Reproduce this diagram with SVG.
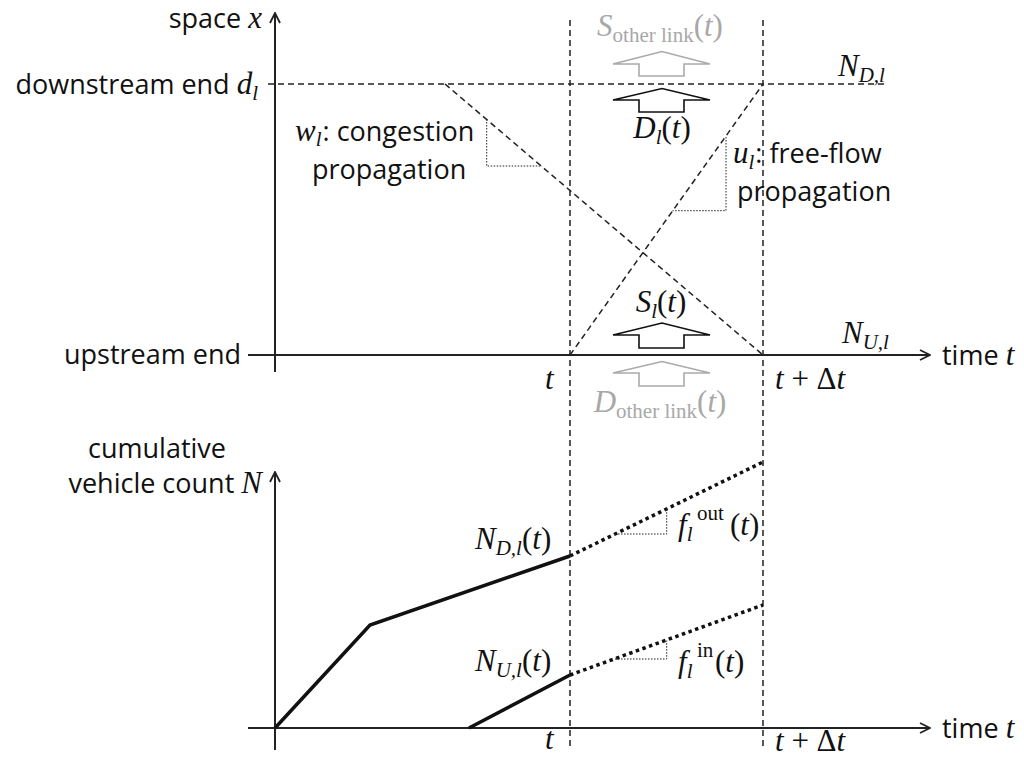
<svg xmlns="http://www.w3.org/2000/svg" width="1024" height="763" viewBox="0 0 1024 763">
<style>
.lbl{font-family:"Open Sans","Noto Sans",sans-serif;font-size:27px;fill:#111}
.m{font-family:"Liberation Serif","DejaVu Serif",serif;font-style:italic;font-size:31px;fill:#111}
.up{font-style:normal}
.sub{font-size:21px}
.gray{fill:#a8a8a8}
.axis{stroke:#222;stroke-width:2;fill:none}
.dash{stroke:#222;stroke-width:1.5;stroke-dasharray:6,4;fill:none}
.dot{stroke:#222;stroke-width:1;stroke-dasharray:1.5,1.5;fill:none}
.thick{stroke:#111;stroke-width:3.5;fill:none}
.thickdot{stroke:#111;stroke-width:3.5;stroke-dasharray:3.5,3.5;fill:none}
.arr{stroke:#111;stroke-width:1.6;fill:none}
.garr{stroke:#aaa;stroke-width:1.6;fill:none}
</style>
<defs>
<marker id="ah" viewBox="0 0 12 12" refX="11" refY="6" markerWidth="12" markerHeight="12" markerUnits="userSpaceOnUse" orient="auto">
<path d="M1,1 L11,6 L1,11" fill="none" stroke="#222" stroke-width="1.8"/>
</marker>
</defs>
<rect width="1024" height="763" fill="#fff"/>

<g id="connectors">
<line class="axis" x1="275" y1="372" x2="275" y2="13" marker-end="url(#ah)"/>
<line class="axis" x1="248" y1="355" x2="930" y2="355" marker-end="url(#ah)"/>
<line class="axis" x1="275" y1="750" x2="275" y2="472" marker-end="url(#ah)"/>
<line class="axis" x1="248" y1="728" x2="930" y2="728" marker-end="url(#ah)"/>
<line class="dash" x1="570" y1="20" x2="570" y2="750"/>
<line class="dash" x1="763" y1="20" x2="763" y2="750"/>
<line class="dash" x1="268" y1="84" x2="885" y2="84"/>
<line class="dash" x1="445" y1="84" x2="763" y2="355"/>
<line class="dash" x1="570" y1="355" x2="763" y2="84"/>
<polyline class="dot" points="486.7,119 486.7,166 542,166"/>
<polyline class="dot" points="726,137 726,210.7 672.5,210.7"/>
<polyline class="thick" points="275,728 370,625 570,556"/>
<line class="thickdot" x1="570" y1="556" x2="763" y2="462"/>
<line class="thick" x1="469" y1="728" x2="570" y2="675"/>
<line class="thickdot" x1="570" y1="675" x2="763" y2="605"/>
<polyline class="dot" points="615,534 666.7,534 666.7,509"/>
<polyline class="dot" points="615,659 666.7,659 666.7,640.5"/>
</g>

<g id="arrow-s-other">
<path class="garr" d="M639,76 L639,64 L613,64 L662,51.5 L710,64 L684,64 L684,76 Z"/>
<text class="m gray" x="660" y="36" text-anchor="middle">S<tspan class="up sub" dy="6">other link</tspan><tspan class="up" dy="-6">(</tspan>t<tspan class="up">)</tspan></text>
</g>
<g id="arrow-d-l">
<path class="arr" d="M639,112 L639,100 L613,100 L662,88.5 L710,100 L684,100 L684,112 Z"/>
<text class="m" x="662" y="138" text-anchor="middle">D<tspan class="sub" dy="6">l</tspan><tspan class="up" dy="-6">(</tspan>t<tspan class="up">)</tspan></text>
</g>
<g id="arrow-s-l">
<path class="arr" d="M639,348 L639,335 L613,335 L662,323 L710,335 L684,335 L684,348 Z"/>
<text class="m" x="661" y="312" text-anchor="middle">S<tspan class="sub" dy="6">l</tspan><tspan class="up" dy="-6">(</tspan>t<tspan class="up">)</tspan></text>
</g>
<g id="arrow-d-other">
<path class="garr" d="M639,386 L639,373 L613,373 L662,361.5 L710,373 L684,373 L684,386 Z"/>
<text class="m gray" x="660" y="412" text-anchor="middle">D<tspan class="up sub" dy="6">other link</tspan><tspan class="up" dy="-6">(</tspan>t<tspan class="up">)</tspan></text>
</g>

<g id="axis-labels">
<text class="lbl" x="262" y="28" text-anchor="end">space <tspan class="m">x</tspan></text>
<text class="lbl" x="258" y="94" text-anchor="end">downstream end <tspan class="m">d</tspan><tspan class="m sub" dy="6">l</tspan></text>
<text class="lbl" x="241" y="364" text-anchor="end">upstream end</text>
<text class="lbl" x="942" y="365">time <tspan class="m">t</tspan></text>
<text class="lbl" x="942" y="738">time <tspan class="m">t</tspan></text>
<text class="lbl" x="157" y="458" text-anchor="middle">cumulative</text>
<text class="lbl" x="262" y="493" text-anchor="end">vehicle count <tspan class="m">N</tspan></text>
<text class="m" x="545" y="389">t</text>
<text class="m" x="775" y="389">t <tspan class="up">+ Δ</tspan>t</text>
<text class="m" x="545" y="749">t</text>
<text class="m" x="775" y="751">t <tspan class="up">+ Δ</tspan>t</text>
</g>

<g id="node-labels">
<text class="m" x="838" y="76">N<tspan class="sub" dy="6">D,l</tspan></text>
<text class="m" x="842" y="343">N<tspan class="sub" dy="6">U,l</tspan></text>
<text class="lbl" x="295" y="141"><tspan class="m">w</tspan><tspan class="m sub" dy="5">l</tspan><tspan dy="-5" dx="1">: congestion</tspan></text>
<text class="lbl" x="312" y="179">propagation</text>
<text class="lbl" x="733" y="163"><tspan class="m">u</tspan><tspan class="m sub" dy="6">l</tspan><tspan dy="-6" dx="1">: free-flow</tspan></text>
<text class="lbl" x="737" y="201">propagation</text>
<text class="m" x="475" y="549">N<tspan class="sub" dy="6">D,l</tspan><tspan class="up" dy="-6">(</tspan>t<tspan class="up">)</tspan></text>
<text class="m" x="475" y="671">N<tspan class="sub" dy="6">U,l</tspan><tspan class="up" dy="-6">(</tspan>t<tspan class="up">)</tspan></text>
<text class="m" x="678" y="535">f<tspan class="sub" dy="6">l</tspan></text>
<text class="m up sub" x="697" y="520">out</text>
<text class="m up" x="730" y="535">(<tspan class="m">t</tspan>)</text>
<text class="m" x="678" y="672">f<tspan class="sub" dy="6">l</tspan></text>
<text class="m up sub" x="697" y="657">in</text>
<text class="m up" x="715" y="672">(<tspan class="m">t</tspan>)</text>
</g>
</svg>
